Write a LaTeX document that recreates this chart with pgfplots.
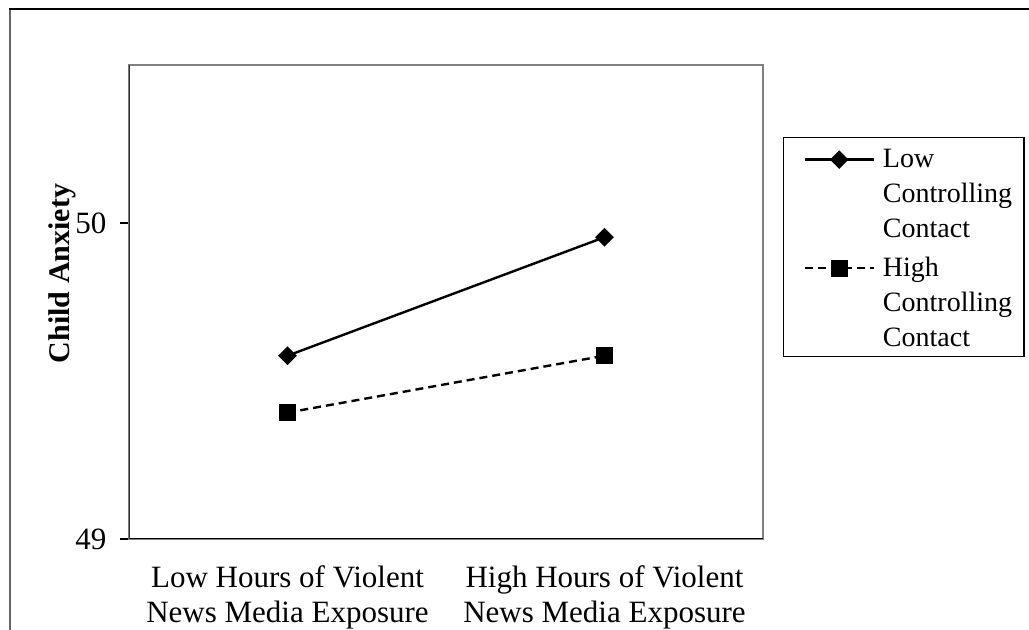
\documentclass[border=0pt]{standalone}
\usepackage{fontspec}
\setmainfont{Liberation Serif}
\usepackage{pgfplots}
\pgfplotsset{compat=1.18}
\newcommand{\legtext}[3]{\raisebox{0pt}[\height][0pt]{\fontsize{14}{17.5}\selectfont\begin{tabular}[b]{@{}l@{}}#1\\#2\\#3\end{tabular}}}
\begin{document}
\fontsize{15.5}{17.5}\selectfont
\begin{tikzpicture}[x=1pt,y=1pt]
\useasboundingbox (-64.5,-45.5) rectangle (450,269.5);
\draw[gray!80!black, line width=0.7pt] (-59.5,-45.5) -- (-59.5,265);
\draw[black, line width=0.7pt] (-59.8,265) -- (450,265);
\begin{axis}[
  at={(0,0)}, anchor=south west,
  scale only axis, width=317pt, height=237pt,
  xmin=0, xmax=2, ymin=49, ymax=50.5,
  ytick={49,50},
  xtick={0.5,1.5},
  xticklabels={{Low Hours of Violent\\News Media Exposure},{High Hours of Violent\\News Media Exposure}},
  x tick label style={align=center, font=\fontsize{15.5}{17.5}\selectfont, yshift=-3.5pt},
  y tick label style={font=\fontsize{15.5}{17.5}\selectfont, xshift=-1.5pt},
  /pgf/number format/assume math mode=true,
  major x tick style={draw=none},
  extra x ticks={0,1,2},
  extra x tick labels={},
  extra x tick style={major tick length=4.5pt, tick style={black, line width=0.6pt}},
  tick align=outside, tick pos=left,
  major tick length=4.5pt,
  tick style={black, line width=0.6pt},
  axis line style={gray, line width=0.9pt},
  ylabel={\textbf{Child Anxiety}},
  ylabel style={at={(axis description cs:-0.105,0.56)}, anchor=center, font=\fontsize{15}{17.5}\selectfont},
  legend style={at={(axis description cs:1.0315,0.848)}, anchor=north west, draw=black, line width=0.6pt,
    cells={anchor=base west}, nodes={inner xsep=2pt, inner ysep=0pt},
    inner xsep=4pt, inner ysep=2.75pt, row sep=4.75pt, column sep=2pt},
  legend image code/.code={\path (0pt,0pt); \draw[#1, mark repeat=2, mark phase=2] plot coordinates {(6pt,39pt) (23.25pt,39pt) (40.5pt,39pt)};},
]
\addplot[black, line width=1.2pt, mark=square*, mark size=2.7pt, mark options={rotate=45, solid}]
  coordinates {(0.5,49.58) (1.5,49.955)};
\addlegendentry{\legtext{Low}{Controlling}{Contact}}
\addplot[black, line width=1.2pt, dash pattern=on 4pt off 2.5pt, mark=square*, mark size=3.7pt, mark options={solid}]
  coordinates {(0.5,49.40) (1.5,49.58)};
\addlegendentry{\legtext{High}{Controlling}{Contact}}
\draw[black, line width=0.9pt] (rel axis cs:0,0) -- (rel axis cs:1,0);
\draw[gray!40!black, line width=0.9pt] (rel axis cs:0,0) -- (rel axis cs:0,1);
\end{axis}
\end{tikzpicture}
\end{document}
